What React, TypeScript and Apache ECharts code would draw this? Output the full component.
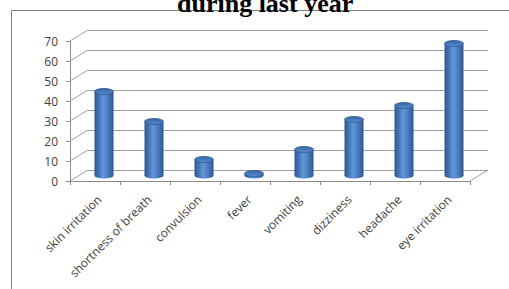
import React, { useEffect, useRef } from "react";
import * as echarts from "echarts";

const categories = [
  "skin irritation",
  "shortness of breath",
  "convulsion",
  "fever",
  "vomiting",
  "dizziness",
  "headache",
  "eye irritation",
];
const values = [42, 27, 8, 1, 13, 28, 35, 66];
const yTicks = [0, 10, 20, 30, 40, 50, 60, 70];
const titleText = "during last year";

const DEPTH_X = 18;
const DEPTH_Y = 11;
const GRID_COLOR = "#a0a0a0";
const AXIS_COLOR = "#8c8c8c";
const LABEL_COLOR = "#404040";
const LABEL_FONT = "'Open Sans', 'Liberation Sans', sans-serif";

export default function App() {
  const ref = useRef<HTMLDivElement>(null);
  useEffect(() => {
    if (!ref.current) return;
    const chart = echarts.init(ref.current, null, { renderer: "svg" });

    const wallData = yTicks.map((v) => [0, v]).concat([[8, 0]]);

    const option: any = {
      animation: false,
      backgroundColor: "#ffffff",
      title: {
        text: titleText,
        left: 177,
        top: -10,
        padding: 0,
        z: 20,
        textStyle: {
          fontFamily: "'Liberation Serif', 'Times New Roman', serif",
          fontWeight: "bold",
          fontSize: 26,
          lineHeight: 26,
          color: "#000000",
        },
      },
      graphic: [
        {
          type: "rect",
          z: -1,
          shape: { x: 11.5, y: 10.5, width: 700, height: 500 },
          style: { fill: "none", stroke: "#7f7f7f", lineWidth: 1 },
        },
      ],
      grid: [
        { left: 70, top: 41, width: 400, height: 140 },
        { left: 88, top: 30, width: 400, height: 140 },
        { left: 79, top: 35.5, width: 400, height: 140 },
      ],
      xAxis: [
        {
          type: "category",
          gridIndex: 0,
          data: categories,
          boundaryGap: true,
          axisLine: { show: true, lineStyle: { color: AXIS_COLOR, width: 1 } },
          axisTick: { show: true, length: 4, lineStyle: { color: AXIS_COLOR } },
          axisLabel: {
            interval: 0,
            rotate: 45,
            margin: 12,
            verticalAlign: "top",
            fontSize: 12,
            color: LABEL_COLOR,
            fontFamily: LABEL_FONT,
          },
          splitLine: { show: false },
        },
        { type: "value", gridIndex: 1, min: 0, max: 8, show: false },
        { type: "category", gridIndex: 2, data: categories, show: false },
      ],
      yAxis: [
        {
          type: "value",
          gridIndex: 0,
          min: 0,
          max: 70,
          interval: 10,
          axisLine: { show: true, lineStyle: { color: AXIS_COLOR, width: 1 } },
          axisTick: { show: true, length: 4, lineStyle: { color: AXIS_COLOR } },
          axisLabel: {
            margin: 12,
            fontSize: 12,
            color: LABEL_COLOR,
            fontFamily: LABEL_FONT,
          },
          splitLine: { show: false },
        },
        {
          type: "value",
          gridIndex: 1,
          min: 0,
          max: 70,
          interval: 10,
          axisLine: { show: false },
          axisTick: { show: false },
          axisLabel: { show: false },
          splitLine: { show: true, lineStyle: { color: GRID_COLOR, width: 1 } },
        },
        { type: "value", gridIndex: 2, min: 0, max: 70, show: false },
      ],
      series: [
        {
          type: "custom",
          xAxisIndex: 1,
          yAxisIndex: 1,
          data: wallData,
          silent: true,
          renderItem: (params: any, api: any) => {
            const p = api.coord([api.value(0), api.value(1)]);
            return {
              type: "line",
              shape: {
                x1: p[0] - DEPTH_X,
                y1: p[1] + DEPTH_Y,
                x2: p[0],
                y2: p[1],
              },
              style: { stroke: GRID_COLOR, lineWidth: 1 },
            };
          },
        },
        {
          type: "custom",
          xAxisIndex: 2,
          yAxisIndex: 2,
          data: values.map((v, i) => [i, v]),
          z: 5,
          renderItem: (params: any, api: any) => {
            const i = api.value(0);
            const v = api.value(1);
            const top = api.coord([i, v]);
            const base = api.coord([i, 0]);
            const band = api.size([1, 0])[0];
            const w = band * 0.38;
            const rx = w / 2;
            const ry = 3;
            const cx = top[0];
            const bodyGrad = new echarts.graphic.LinearGradient(0, 0, 1, 0, [
              { offset: 0, color: "#2b5790" },
              { offset: 0.25, color: "#4478bb" },
              { offset: 0.45, color: "#6497d9" },
              { offset: 0.7, color: "#4a7ec2" },
              { offset: 1, color: "#2a568e" },
            ]);
            const topGrad = new echarts.graphic.LinearGradient(0, 0, 0, 1, [
              { offset: 0, color: "#3465a4" },
              { offset: 1, color: "#5a8ccf" },
            ]);
            return {
              type: "group",
              children: [
                {
                  type: "ellipse",
                  shape: { cx, cy: base[1], rx, ry },
                  style: { fill: bodyGrad },
                },
                {
                  type: "rect",
                  shape: { x: cx - rx, y: top[1], width: w, height: Math.max(base[1] - top[1], 0) },
                  style: { fill: bodyGrad },
                },
                {
                  type: "ellipse",
                  shape: { cx, cy: top[1], rx, ry },
                  style: { fill: topGrad, stroke: "#2e5d99", lineWidth: 0.8 },
                },
              ],
            };
          },
        },
      ],
    };

    chart.setOption(option);
    return () => chart.dispose();
  }, []);

  return (
    <div
      ref={ref}
      style={{ position: "absolute", left: 0, top: 0, width: 509, height: 289, background: "#fff" }}
    />
  );
}
